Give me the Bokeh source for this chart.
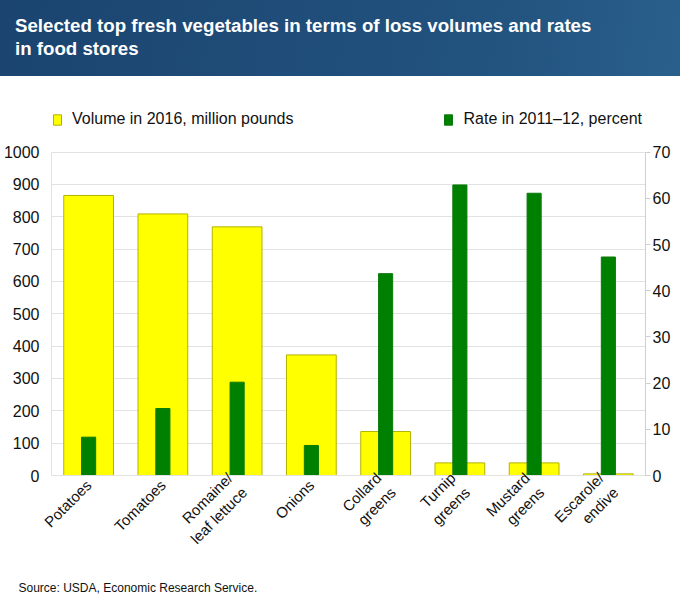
from math import pi

from bokeh.plotting import figure
from bokeh.layouts import column
from bokeh.models import (ColumnDataSource, FactorRange, Range1d, LinearAxis,
                          FixedTicker, Legend, LegendItem, Title, Div)
from bokeh.embed import file_html
from bokeh.resources import INLINE

# data
vegetables = ["Potatoes", "Tomatoes", "Romaine/\nleaf lettuce", "Onions",
              "Collard\ngreens", "Turnip\ngreens", "Mustard\ngreens", "Escarole/\nendive"]
volume_2016 = [866, 809, 769, 373, 136, 39, 39, 5]          # million pounds
rate_2011_12 = [8.3, 14.5, 20.2, 6.5, 43.7, 62.9, 61.1, 47.3]  # percent
volume_ticks = list(range(0, 1001, 100))
rate_ticks = list(range(0, 71, 10))

title_text = ("Selected top fresh vegetables in terms of loss volumes and rates<br>"
              "in food stores")
source_note = "Source: USDA, Economic Research Service."

FONT = "Liberation Sans"
GRID = "#e2e2e2"
W = 680

# ---- banner with the title ----
banner = Div(width=W, height=76, margin=0, text=(
    '<div style="width:%dpx;height:76px;box-sizing:border-box;' % W +
    'background:linear-gradient(100deg,#1b4470 0%,#22527e 70%,#2a5f8c 100%);'
    'color:white;font-family:\'Liberation Sans\';font-weight:bold;font-size:18.7px;'
    'line-height:23px;padding:14px 0 0 15px;">' + title_text + '</div>'))

# ---- main chart ----
src = ColumnDataSource(dict(veg=vegetables, volume=volume_2016, rate=rate_2011_12))

# headroom above 1000 holds the legend, axis lines stop at the top tick
top = 1135
p = figure(width=W, height=536, x_range=FactorRange(*vegetables),
           y_range=Range1d(0, top), toolbar_location=None, output_backend="svg",
           title=None, min_border_left=48, min_border_right=35, min_border_top=32,
           min_border_bottom=137, margin=0)
p.extra_y_ranges = {"rate": Range1d(0, top * 70 / 1000)}
p.outline_line_color = None
p.xgrid.grid_line_color = None
p.ygrid.ticker = FixedTicker(ticks=volume_ticks)
p.ygrid.grid_line_color = GRID

yl = p.yaxis[0]
yl.ticker = FixedTicker(ticks=volume_ticks)
yl.bounds = (0, 1000)
yl.axis_line_color = GRID
yl.major_tick_line_color = None
yl.minor_tick_line_color = None
yl.major_label_text_font = FONT
yl.major_label_text_font_size = "16px"
yl.major_label_text_color = "#111111"
yl.major_label_standoff = 6

yr = LinearAxis(y_range_name="rate", ticker=FixedTicker(ticks=rate_ticks), bounds=(0, 70))
yr.axis_line_color = "#cfcfcf"
yr.major_tick_line_color = "#cfcfcf"
yr.major_tick_in = 0
yr.major_tick_out = 5
yr.minor_tick_line_color = None
yr.major_label_text_font = FONT
yr.major_label_text_font_size = "16px"
yr.major_label_text_color = "#111111"
yr.major_label_standoff = 2
p.add_layout(yr, "right")

xa = p.xaxis[0]
xa.axis_line_color = GRID
xa.major_tick_line_color = None
xa.major_label_orientation = pi / 4
xa.major_label_text_font = FONT
xa.major_label_text_font_size = "15px"
xa.major_label_text_color = "#111111"
xa.major_label_text_align = "left"
xa.major_label_text_baseline = "middle"
xa.major_label_standoff = 1

r_vol = p.vbar(x="veg", top="volume", width=0.67, source=src,
               fill_color="#ffff00", line_color="#b3b300", line_width=1)
r_rate = p.vbar(x="veg", top="rate", width=0.19, source=src, y_range_name="rate",
                fill_color="#008000", line_color="#0a7a0a", line_width=1)

legend = Legend(items=[LegendItem(label="Volume in 2016, million pounds", renderers=[r_vol]),
                       LegendItem(label="Rate in 2011\u201312, percent", renderers=[r_rate])],
                orientation="horizontal", location="top_left", spacing=150,
                glyph_width=10, glyph_height=13, label_standoff=10, label_height=20,
                label_text_font=FONT, label_text_font_size="16px",
                label_text_color="#111111", padding=0, margin=1,
                border_line_color=None, background_fill_alpha=0)
p.add_layout(legend)

note = Title(text=source_note, align="left", offset=-33, standoff=31,
             text_font=FONT, text_font_size="12px", text_font_style="normal",
             text_color="#111111")
p.add_layout(note, "below")

layout = column(banner, p, spacing=0)

open("out.html", "w").write(file_html(layout, INLINE))
